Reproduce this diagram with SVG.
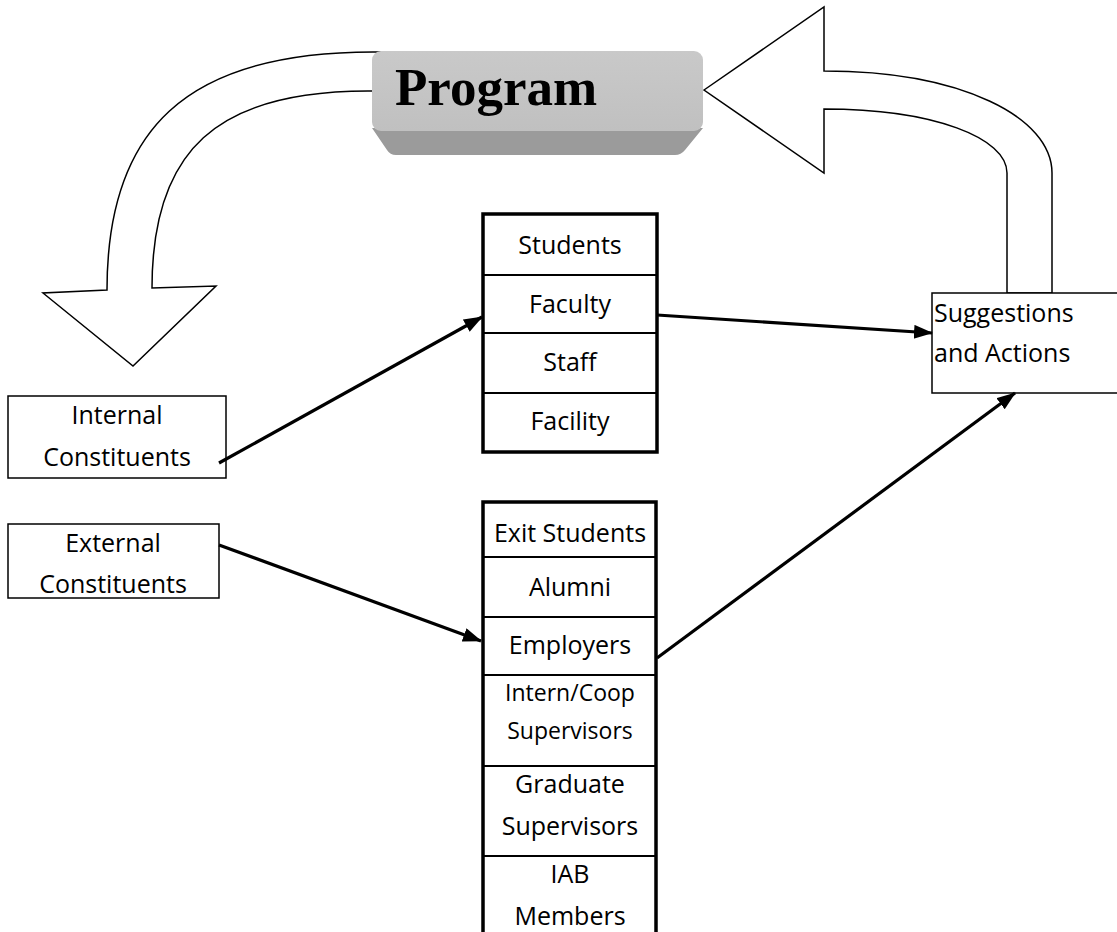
<svg xmlns="http://www.w3.org/2000/svg" width="1117" height="932" viewBox="0 0 1117 932">
<style>
  .big { fill: #fff; stroke: #000; stroke-width: 1.5; stroke-linejoin: miter; }
  .box { fill: #fff; stroke: #000; stroke-width: 1.5; }
  .stack { fill: #fff; stroke: #000; stroke-width: 3.5; }
  .div { stroke: #000; stroke-width: 2; }
  .t { font-family: "Open Sans", "Noto Sans", "Liberation Sans", sans-serif; font-size: 25px; fill: #000; }
  .c { text-anchor: middle; }
  .s { font-size: 23px; }
  .conn { stroke: #000; stroke-width: 3.2; fill: none; marker-end: url(#ah); }
</style>
<defs>
  <marker id="ah" markerUnits="userSpaceOnUse" markerWidth="22" markerHeight="16" refX="18" refY="7" orient="auto">
    <path d="M0,0 L19,7 L0,14 Z" fill="#000"/>
  </marker>
  <linearGradient id="topface" x1="0" y1="0" x2="0" y2="1">
    <stop offset="0" stop-color="#c9c9c9"/>
    <stop offset="1" stop-color="#c0c0c0"/>
  </linearGradient>
</defs>
<rect width="1117" height="932" fill="#fff"/>

<g id="arrow-left">
  <path class="big" d="M 400 52 L 373 52 C 185 52, 107 130, 107 290 L 43 293 L 133 366 L 216 286 L 152 288 C 152 150, 217 91, 368 91 L 400 91 Z"/>
</g>
<g id="arrow-right">
  <path class="big" d="M 704 90 L 824 7 L 824 71 C 961 71, 1052 117, 1052 173 L 1052 293 L 1007 293 L 1007 173 C 1007 138, 934 109, 824 109 L 824 173 Z"/>
</g>

<g id="program">
  <path d="M 372 128 L 703 128 L 685 150 Q 681 155 675 155 L 396 155 Q 390 155 387 150 Z" fill="#9b9b9b"/>
  <rect x="372" y="51" width="331" height="80" rx="9" fill="url(#topface)"/>
  <text x="395" y="105" font-family="'Liberation Serif', 'Times New Roman', serif" font-weight="bold" font-size="53">Program</text>
</g>

<g id="internal">
  <rect class="box" x="8" y="396" width="218" height="82"/>
  <text class="t c" x="117" y="424">Internal</text>
  <text class="t c" x="117" y="466">Constituents</text>
</g>
<g id="external">
  <rect class="box" x="8" y="524" width="211" height="74"/>
  <text class="t c" x="113" y="552">External</text>
  <text class="t c" x="113" y="593">Constituents</text>
</g>

<g id="internal-stack">
  <rect class="stack" x="483" y="214" width="174" height="238"/>
  <line class="div" x1="483" y1="275" x2="657" y2="275"/>
  <line class="div" x1="483" y1="333" x2="657" y2="333"/>
  <line class="div" x1="483" y1="393" x2="657" y2="393"/>
  <text class="t c" x="570" y="254">Students</text>
  <text class="t c" x="570" y="313">Faculty</text>
  <text class="t c" x="570" y="371">Staff</text>
  <text class="t c" x="570" y="430">Facility</text>
</g>

<g id="external-stack">
  <path class="stack" d="M 483 940 L 483 502 L 656 502 L 656 940"/>
  <line class="div" x1="483" y1="557" x2="656" y2="557"/>
  <line class="div" x1="483" y1="617" x2="656" y2="617"/>
  <line class="div" x1="483" y1="675" x2="656" y2="675"/>
  <line class="div" x1="483" y1="766" x2="656" y2="766"/>
  <line class="div" x1="483" y1="856" x2="656" y2="856"/>
  <text class="t c" x="570" y="542">Exit Students</text>
  <text class="t c" x="570" y="596">Alumni</text>
  <text class="t c" x="570" y="654">Employers</text>
  <text class="t c s" x="570" y="701">Intern/Coop</text>
  <text class="t c s" x="570" y="739">Supervisors</text>
  <text class="t c" x="570" y="793">Graduate</text>
  <text class="t c" x="570" y="835">Supervisors</text>
  <text class="t c" x="570" y="883">IAB</text>
  <text class="t c" x="570" y="925">Members</text>
</g>

<g id="suggestions">
  <rect class="box" x="932" y="293" width="200" height="100"/>
  <text class="t" x="934" y="322">Suggestions</text>
  <text class="t" x="934" y="362">and Actions</text>
</g>

<g id="connectors">
  <line class="conn" x1="219" y1="463" x2="482" y2="317"/>
  <line class="conn" x1="219" y1="545" x2="481" y2="641"/>
  <line class="conn" x1="657" y1="315" x2="932" y2="333"/>
  <line class="conn" x1="657" y1="658" x2="1015" y2="393"/>
</g>
</svg>
